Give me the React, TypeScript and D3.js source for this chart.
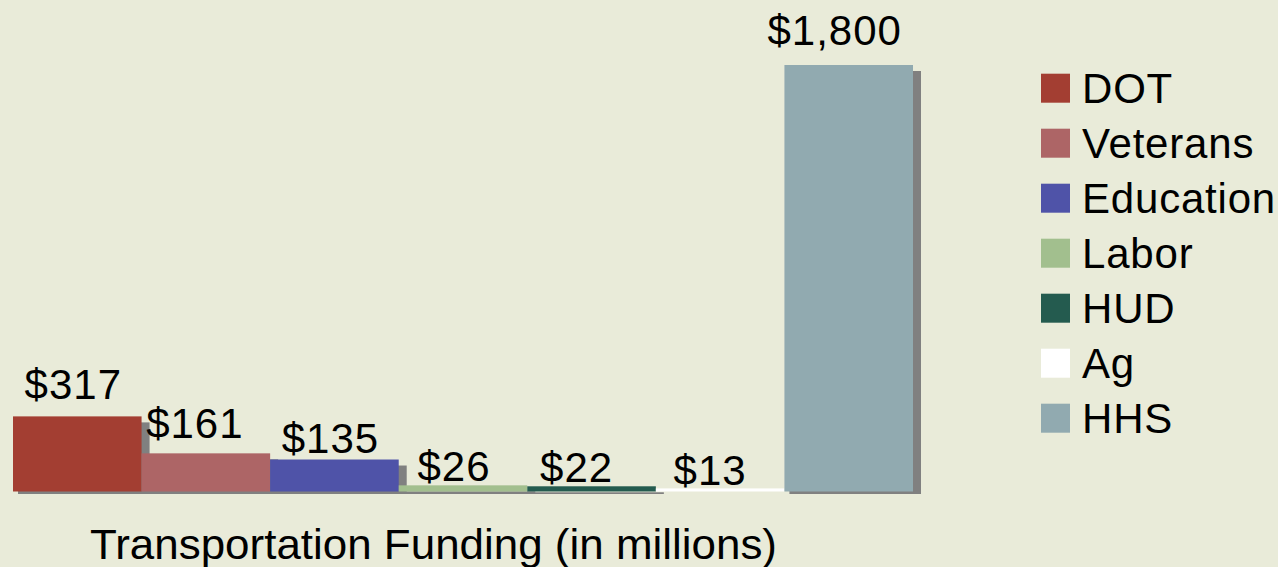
import React, { useRef, useEffect } from "react";
import * as d3 from "d3";

// data
const agencies = ["DOT", "Veterans", "Education", "Labor", "HUD", "Ag", "HHS"];
const funding = [317, 161, 135, 26, 22, 13, 1800];
const colors = ["#A33E32", "#AD6566", "#4F53A8", "#A2BF8E", "#245B4F", "#FFFFFF", "#91AAB0"];

// label nudges (layout only)
const labelDx = [-4, -11, -4, -9, -15, -10, -14];
const labelGap = [17, 15, 7, 4, 4, 3, 20];

const W = 1278;
const H = 567;

const App = () => {
  const ref = useRef<SVGSVGElement>(null);

  useEffect(() => {
    const svg = d3.select(ref.current);
    svg.selectAll("*").remove();

    svg.append("rect").attr("width", W).attr("height", H).attr("fill", "#E9EBD9");

    const x = d3.scaleBand().domain(agencies).range([13, 913]).padding(0);
    const y = d3.scaleLinear().domain([0, 1800]).range([491.5, 65]);
    const rows = agencies.map((a, i) => ({ a, v: funding[i], c: colors[i], i }));

    // shadows first
    svg
      .append("g")
      .selectAll("rect")
      .data(rows.filter((d) => y(d.v) + 6 < y(0) + 2.5))
      .enter()
      .append("rect")
      .attr("x", (d) => x(d.a)! + 5)
      .attr("y", (d) => y(d.v) + 6)
      .attr("width", x.bandwidth() + 3)
      .attr("height", (d) => y(0) + 2.5 - (y(d.v) + 6))
      .attr("fill", "#808080");

    svg
      .append("g")
      .selectAll("rect")
      .data(rows)
      .enter()
      .append("rect")
      .attr("x", (d) => x(d.a)!)
      .attr("y", (d) => y(d.v))
      .attr("width", x.bandwidth())
      .attr("height", (d) => y(0) - y(d.v))
      .attr("fill", (d) => d.c);

    // value labels
    svg
      .append("g")
      .selectAll("text")
      .data(rows)
      .enter()
      .append("text")
      .attr("x", (d) => x(d.a)! + x.bandwidth() / 2 + labelDx[d.i])
      .attr("y", (d) => y(d.v) - labelGap[d.i])
      .attr("text-anchor", "middle")
      .attr("font-family", "Liberation Sans, Arial, sans-serif")
      .attr("font-size", 42)
      .attr("letter-spacing", 1)
      .attr("fill", "#000")
      .text((d) => "$" + d3.format(",")(d.v));

    // legend
    const leg = svg
      .append("g")
      .selectAll("g")
      .data(rows)
      .enter()
      .append("g")
      .attr("transform", (d) => `translate(1041, ${102.7 + d.i * 55})`);
    leg
      .append("rect")
      .attr("y", -29)
      .attr("width", 29)
      .attr("height", 29)
      .attr("fill", (d) => d.c);
    leg
      .append("text")
      .attr("x", 41)
      .attr("font-family", "Liberation Sans, Arial, sans-serif")
      .attr("font-size", 42)
      .attr("letter-spacing", 0.8)
      .attr("fill", "#000")
      .text((d) => d.a);

    // axis title
    svg
      .append("text")
      .attr("x", 90)
      .attr("y", 559)
      .attr("font-family", "Liberation Sans, Arial, sans-serif")
      .attr("font-size", 42)
      .attr("textLength", 687)
      .attr("lengthAdjust", "spacingAndGlyphs")
      .attr("fill", "#000")
      .text("Transportation Funding (in millions)");
  }, []);

  return (
    <div>
      <svg
        ref={ref}
        width={W}
        height={H}
        style={{ position: "absolute", left: 0, top: 0 }}
      ></svg>
    </div>
  );
};

export default App;
